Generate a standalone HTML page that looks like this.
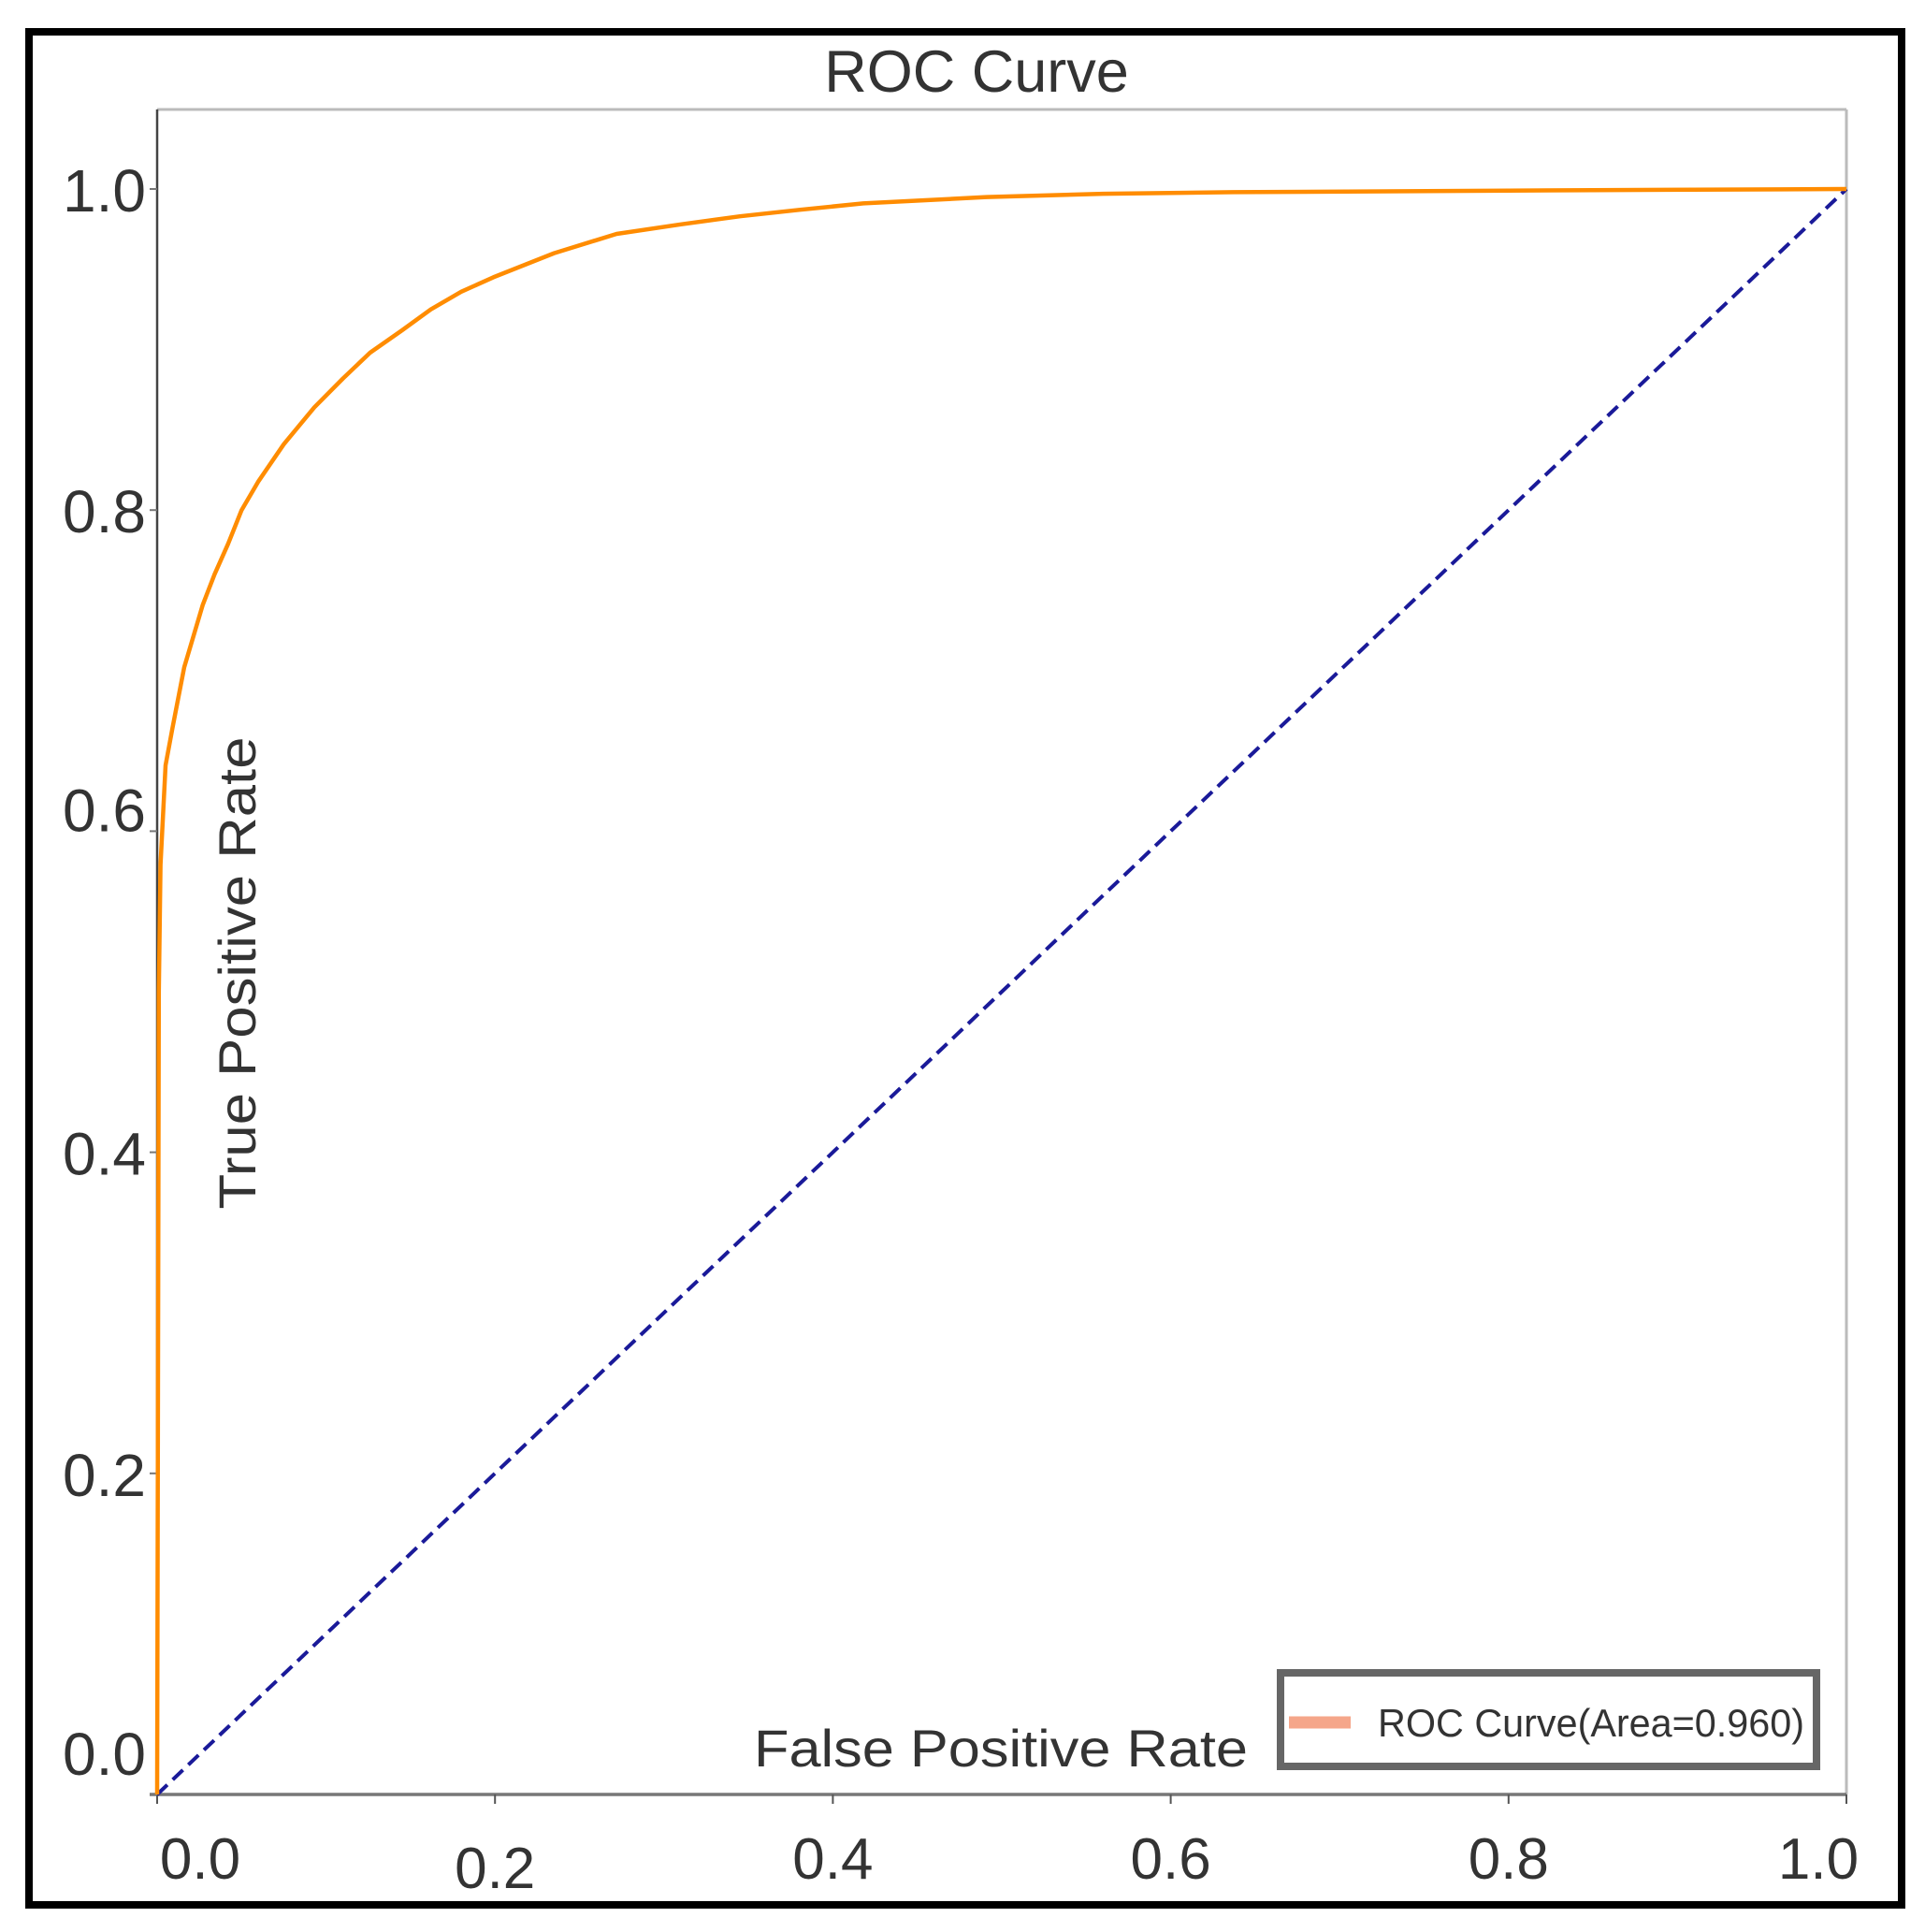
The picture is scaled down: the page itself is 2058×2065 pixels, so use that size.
<!DOCTYPE html>
<html><head><meta charset="utf-8"><style>
html,body{margin:0;padding:0;background:#fff;}
svg{display:block;font-family:"Liberation Sans",sans-serif;}
</style></head><body>
<svg id="chart" width="2058" height="2065" viewBox="0 0 2058 2065" xmlns="http://www.w3.org/2000/svg">
<rect x="31" y="34" width="2002" height="2002" fill="#fff" stroke="#000" stroke-width="8"/>
<text x="1044" y="98" font-size="63" fill="#333" text-anchor="middle">ROC Curve</text>
<line x1="168" y1="117" x2="1974" y2="117" stroke="#bbb" stroke-width="3"/>
<line x1="1974" y1="117" x2="1974" y2="1918" stroke="#bbb" stroke-width="3"/>
<line x1="168" y1="117" x2="168" y2="1918" stroke="#444" stroke-width="2.5"/>
<line x1="160" y1="1918" x2="1974" y2="1918" stroke="#777" stroke-width="3.5"/>
<g id="ticks"></g>
<path id="diag" fill="none" stroke="#1a1a99" stroke-width="4" stroke-dasharray="15 8"/>
<path id="roc" fill="none" stroke="#ff8c00" stroke-width="4.5" stroke-linejoin="round"/>
<text transform="translate(273,1040) rotate(-90)" font-size="56" fill="#333" text-anchor="middle" textLength="505" lengthAdjust="spacingAndGlyphs">True Positive Rate</text>
<text x="806" y="1888" font-size="56" fill="#333" textLength="528" lengthAdjust="spacingAndGlyphs">False Positive Rate</text>
<g>
<rect x="1369" y="1788" width="573" height="100" fill="#fff" stroke="#666" stroke-width="8"/>
<line x1="1378" y1="1841" x2="1444" y2="1841" stroke="#f5a68a" stroke-width="13"/>
<text x="1473" y="1856" font-size="42" fill="#333" textLength="456" lengthAdjust="spacingAndGlyphs">ROC Curve(Area=0.960)</text>
</g>
</svg>
<script>
const fprValues = [0, 0.001, 0.002, 0.005, 0.009, 0.016, 0.027, 0.034, 0.042, 0.05, 0.06, 0.075, 0.093, 0.11, 0.126, 0.145, 0.162, 0.18, 0.199, 0.235, 0.272, 0.31, 0.345, 0.38, 0.418, 0.455, 0.491, 0.56, 0.637, 0.8, 1.0];
const tprValues = [0, 0.5, 0.579, 0.641, 0.664, 0.702, 0.741, 0.760, 0.779, 0.800, 0.818, 0.841, 0.864, 0.882, 0.898, 0.912, 0.925, 0.936, 0.945, 0.960, 0.972, 0.978, 0.983, 0.987, 0.991, 0.993, 0.995, 0.997, 0.998, 0.999, 1.0];
const xTickValues = [0, 0.2, 0.4, 0.6, 0.8, 1.0];
const xTickLabels = ["0.0", "0.2", "0.4", "0.6", "0.8", "1.0"];
const yTickValues = [0, 0.2, 0.4, 0.6, 0.8, 1.0];
const yTickLabels = ["0.0", "0.2", "0.4", "0.6", "0.8", "1.0"];

const X0 = 168, X1 = 1974, Y0 = 1918, Y1 = 202;
function xs(v) { return X0 + v * (X1 - X0); }
function ys(v) { return Y0 - v * (Y0 - Y1); }
const NS = "http://www.w3.org/2000/svg";
const tg = document.getElementById("ticks");

xTickValues.forEach((v, i) => {
  const t = document.createElementNS(NS, "line");
  
  
  t.setAttribute("x1", xs(v)); t.setAttribute("x2", xs(v));
  t.setAttribute("y1", Y0); t.setAttribute("y2", Y0 + 10);
  t.setAttribute("stroke", "#555"); t.setAttribute("stroke-width", "2");
  tg.appendChild(t);
  const l = document.createElementNS(NS, "text");
  
  
  let cx = xs(v);
  if (i === 0) cx += 46;
  if (i === xTickValues.length - 1) cx -= 30;
  l.setAttribute("x", cx);
  l.setAttribute("y", Y0 + (i === 1 ? 100 : 90));
  l.setAttribute("font-size", "62");
  l.setAttribute("fill", "#333");
  l.setAttribute("text-anchor", "middle");
  l.textContent = xTickLabels[i];
  tg.appendChild(l);
});

yTickValues.forEach((v, i) => {
  const t = document.createElementNS(NS, "line");
  
  
  t.setAttribute("x1", X0 - 8); t.setAttribute("x2", X0);
  t.setAttribute("y1", ys(v)); t.setAttribute("y2", ys(v));
  t.setAttribute("stroke", "#777"); t.setAttribute("stroke-width", "2");
  tg.appendChild(t);
  const l = document.createElementNS(NS, "text");
  
  
  let cy = ys(v) + 24;
  if (i === 0) cy -= 45;
  if (i === 3) cy -= 24;
  l.setAttribute("x", X0 - 12);
  l.setAttribute("y", cy);
  l.setAttribute("font-size", "64");
  l.setAttribute("fill", "#333");
  l.setAttribute("text-anchor", "end");
  l.textContent = yTickLabels[i];
  tg.appendChild(l);
});

document.getElementById("diag").setAttribute("d", "M" + xs(0) + "," + ys(0) + " L" + xs(1) + "," + ys(1));
let d = "";
fprValues.forEach((v, i) => { d += (i ? " L" : "M") + xs(v).toFixed(1) + "," + ys(tprValues[i]).toFixed(1); });
document.getElementById("roc").setAttribute("d", d);
</script>
</body></html>
